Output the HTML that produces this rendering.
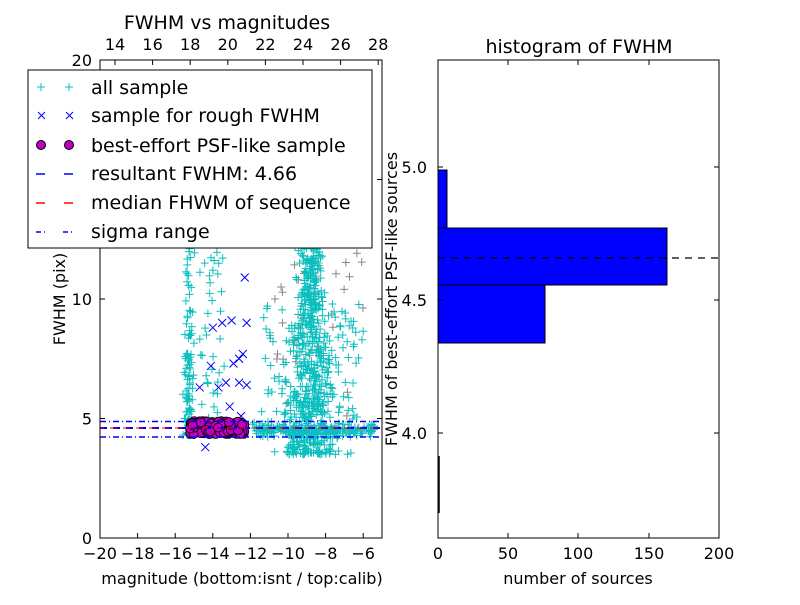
<!DOCTYPE html>
<html><head><meta charset="utf-8"><style>
body{margin:0;background:#fff;}
svg text{font-family:"DejaVu Sans","Liberation Sans",sans-serif;}
</style></head><body>
<svg id="s" width="800" height="600" xmlns="http://www.w3.org/2000/svg">
<rect width="800" height="600" fill="#fff"/>
<g id="pts"></g>
<!-- left axes -->
<line x1="100" y1="428" x2="382" y2="428" stroke="#00f" stroke-width="2" stroke-dasharray="7,6"/>
<line x1="100" y1="428" x2="382" y2="428" stroke="#f00" stroke-width="1" stroke-dasharray="7,6" stroke-dashoffset="3"/>
<line x1="100" y1="421.5" x2="382" y2="421.5" stroke="#00f" stroke-width="1.5" stroke-dasharray="6,3,1,3"/>
<line x1="100" y1="437" x2="382" y2="437" stroke="#00f" stroke-width="1.5" stroke-dasharray="6,3,1,3"/>
<rect x="100" y="60" width="282" height="478" fill="none" stroke="#000"/>
<g id="lt" stroke="#000"></g>
<g font-size="16" text-anchor="middle" id="ltx"></g>
<text x="227" y="29" font-size="19" text-anchor="middle">FWHM vs magnitudes</text>
<text x="242" y="584" font-size="16" text-anchor="middle">magnitude (bottom:isnt / top:calib)</text>
<text transform="translate(65,299) rotate(-90)" font-size="16" text-anchor="middle">FWHM (pix)</text>
<!-- legend -->
<rect x="28" y="70" width="344" height="178" fill="#fff" stroke="#000"/>
<g font-size="19">
<text x="91" y="94">all sample</text>
<text x="91" y="122">sample for rough FWHM</text>
<text x="91" y="152">best-effort PSF-like sample</text>
<text x="91" y="180">resultant FWHM: 4.66</text>
<text x="91" y="209">median FHWM of sequence</text>
<text x="91" y="238">sigma range</text>
</g>
<g stroke="#0bbfbf"><path d="M37 87h8M41 83v8M65 87h8M69 83v8"/></g>
<g stroke="#00f"><path d="M38 112l7 7M45 112l-7 7M66 112l7 7M73 112l-7 7"/></g>
<circle cx="41" cy="145" r="4.5" fill="#bf00bf" stroke="#000"/><circle cx="69" cy="145" r="4.5" fill="#bf00bf" stroke="#000"/>
<path d="M36 174h9M64 174h9" stroke="#00f" stroke-width="1.5"/>
<path d="M36 203h9M64 203h9" stroke="#f00" stroke-width="1.5"/>
<path d="M36 232h5M44 232h1M63 232h5M71 232h1" stroke="#00f" stroke-width="1.5"/>
<!-- right axes -->
<rect x="438" y="285" width="107" height="58" fill="#00f" stroke="#000"/>
<rect x="438" y="228" width="229" height="57" fill="#00f" stroke="#000"/>
<rect x="438" y="170" width="9" height="58" fill="#00f" stroke="#000"/>
<line x1="439" y1="456" x2="439" y2="513" stroke="#000" stroke-width="1.5"/>
<line x1="438" y1="258" x2="719" y2="258" stroke="#000" stroke-width="1.3" stroke-dasharray="7,6"/>
<rect x="438" y="60" width="281" height="478" fill="none" stroke="#000"/>
<g stroke="#000">
<path d="M438 167h5M719 167h-5M438 300h5M719 300h-5M438 433h5M719 433h-5"/>
<path d="M508 538v-5M578 538v-5M649 538v-5M508 60v5M578 60v5M649 60v5"/>
</g>
<g font-size="16">
<text x="427" y="173" text-anchor="end">5.0</text>
<text x="427" y="306" text-anchor="end">4.5</text>
<text x="427" y="439" text-anchor="end">4.0</text>
<text x="438" y="559" text-anchor="middle">0</text>
<text x="508" y="559" text-anchor="middle">50</text>
<text x="578" y="559" text-anchor="middle">100</text>
<text x="649" y="559" text-anchor="middle">150</text>
<text x="719" y="559" text-anchor="middle">200</text>
</g>
<text x="579" y="53" font-size="19" text-anchor="middle">histogram of FWHM</text>
<text x="578" y="584" font-size="16" text-anchor="middle">number of sources</text>
<text transform="translate(397,299) rotate(-90)" font-size="16" text-anchor="middle">FWHM of best-effort PSF-like sources</text>
</svg>
<script>
var NS="http://www.w3.org/2000/svg",g=document.getElementById('pts');
var seed=7;function r(){seed=(seed*16807)%2147483647;return seed/2147483647;}
function n(){return (r()+r()+r()+r()-2)*0.87;}
var sx=function(m){return 100+(m+20)*18.8},sy=function(f){return 538-f*23.9};
var d="",dg="";
function plus(x,y){if(x<101||x>381||y<61||y>537)return;d+="M"+(x-4)+" "+y+"h8M"+x+" "+(y-4)+"v8";}
for(var i=0;i<110;i++)plus(sx(-15.3+n()*0.2),sy(4.3+r()*r()*12));
for(var i=0;i<60;i++)plus(sx(-13.9+n()*0.7),sy(5+r()*12));
for(var i=0;i<750;i++){var f=3.5+Math.pow(r(),1.5)*14;plus(sx(-8.8+n()*0.6*(1+(12-Math.min(f,12))/5)),sy(f));}
for(var i=0;i<200;i++)plus(sx(-12+r()*6.7),sy(4.5+n()*0.25));
for(var i=0;i<120;i++)plus(sx(-11.5+r()*5.5),sy(4+r()*6));
for(var i=0;i<40;i++){var x=sx(-11+r()*5),y=sy(4+r()*10);if(x>101&&x<381&&y>61&&y<537)dg+="M"+(x-4)+" "+y+"h8M"+x+" "+(y-4)+"v8";}
var p=document.createElementNS(NS,"path");p.setAttribute("d",dg);p.setAttribute("stroke","#888");g.appendChild(p);
p=document.createElementNS(NS,"path");p.setAttribute("d",d);p.setAttribute("stroke","#0bbfbf");g.appendChild(p);
var xs="",bx=[[-13.5,9],[-13,9.1],[-12.3,10.9],[-12.2,9],[-12.9,7.3],[-14.1,7.2],[-14,8.8],[-13.3,6.5],[-12.6,6.5],[-12.4,7.7],[-13.7,6.3],[-14.7,6.3],[-12.9,4.8],[-13.1,5.5],[-14.4,3.8],[-12.2,6.4],[-12.5,5.1],[-12.6,7.5]];
bx.forEach(function(b){var x=sx(b[0]),y=sy(b[1]);xs+="M"+(x-4)+" "+(y-4)+"l8 8M"+(x+4)+" "+(y-4)+"l-8 8";});
p=document.createElementNS(NS,"path");p.setAttribute("d",xs);p.setAttribute("stroke","#00f");g.appendChild(p);
for(var i=0;i<260;i++){var f=4.62+(r()-0.5)*0.55;var c=document.createElementNS(NS,"circle");c.setAttribute("cx",190+r()*55);c.setAttribute("cy",sy(f));c.setAttribute("r",4.5);c.setAttribute("fill","#bf00bf");c.setAttribute("stroke","#000");c.setAttribute("stroke-width","0.8");g.appendChild(c);}
var t="",tx=document.getElementById('ltx'),h="";
[-20,-18,-16,-14,-12,-10,-8,-6].forEach(function(m){var x=sx(m);t+="M"+x+" 538v-5";h+='<text x="'+x+'" y="559">'+(m<0?"\u2212"+(-m):m)+'</text>';});
[14,16,18,20,22,24,26,28].forEach(function(m){var x=115+(m-14)*18.8;t+="M"+x+" 60v5";h+='<text x="'+x+'" y="50">'+m+'</text>';});
[0,5,10,15,20].forEach(function(f){var y=sy(f);t+="M100 "+y+"h5M382 "+y+"h-5";h+='<text x="92" y="'+(y+6)+'" text-anchor="end">'+f+'</text>';});
document.getElementById('lt').innerHTML='<path d="'+t+'"/>';tx.innerHTML=h;
</script>
</body></html>
